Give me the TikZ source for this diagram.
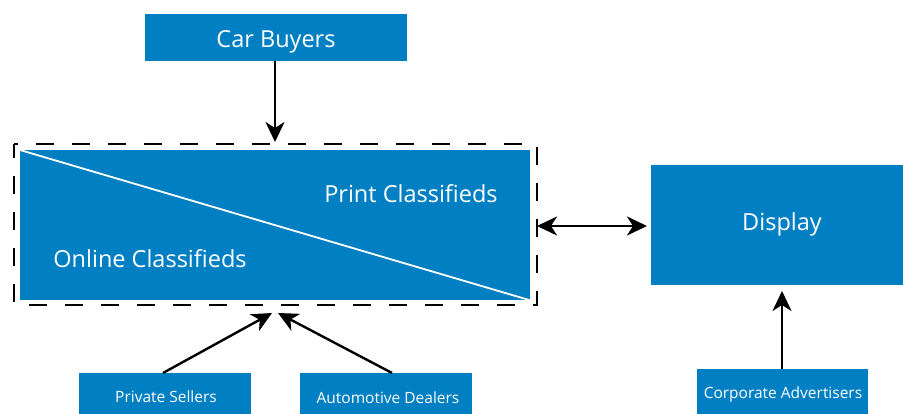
\documentclass[tikz,border=0pt]{standalone}
\usepackage{fontspec}
\setmainfont{Open Sans}
\usetikzlibrary{arrows.meta}
\definecolor{boxblue}{RGB}{0,128,194}
\begin{document}
\begin{tikzpicture}[x=1pt,y=-1pt,
  bluebox/.style={fill=boxblue,draw=none,text=white,inner sep=0pt},
  bigtext/.style={text=white,anchor=base,inner sep=0pt,font=\fontsize{23.5}{27}\selectfont},
  smalltext/.style={text=white,anchor=base,inner sep=0pt,font=\fontsize{15.5}{18}\selectfont},
  conn/.style={draw=black,line width=2.4pt,-{Stealth[length=20pt,width=19pt,inset=6pt]}},
  dconn/.style={draw=black,line width=2.4pt,{Stealth[length=20pt,width=19pt,inset=6pt]}-{Stealth[length=20pt,width=19pt,inset=6pt]}}]
\useasboundingbox (0,0) rectangle (903,414);
% Car Buyers
\node[bluebox,minimum width=262pt,minimum height=47pt,anchor=north west] (cb) at (145,14) {};
\node[bigtext] (cbt) at (276,48) {Car Buyers};
% dashed box
\draw[line width=2.7pt,dash pattern=on 18pt off 18pt,dash phase=4pt] (14,144) rectangle (537,305);
\coordinate (dtop) at (275,142);
% main rect
\node[bluebox,minimum width=510pt,minimum height=150pt,anchor=north west] (main) at (20,150) {};
\draw[white,line width=1.8pt] (main.north west) -- (main.south east);
\node[bigtext] (print) at (411,203) {Print Classifieds};
\node[bigtext] (online) at (150,268) {Online Classifieds};
% Display
\node[bluebox,minimum width=252pt,minimum height=120pt,anchor=north west] (disp) at (651,165) {};
\node[bigtext] (dispt) at (782,231) {Display};
% bottom boxes
\node[bluebox,minimum width=172pt,minimum height=50pt,anchor=north west] (ps) at (79,373) {};
\node[smalltext] (pst) at (166,402) {Private Sellers};
\node[bluebox,minimum width=172pt,minimum height=50pt,anchor=north west] (ad) at (300,373) {};
\node[smalltext] (adt) at (388,403) {Automotive Dealers};
\node[bluebox,minimum width=171pt,minimum height=50pt,anchor=north west] (ca) at (697,369) {};
\node[smalltext] (cat) at (783,398) {Corporate Advertisers};
% connectors
\coordinate (cbbot) at (275,61);
\draw[conn] (cbbot) -- (dtop);
\coordinate (dl) at (537,226);
\coordinate (dr) at (647,226);
\draw[dconn] (dl) -- (dr);
\coordinate (psa) at (163,373);
\coordinate (psb) at (272,313);
\draw[conn] (psa) -- (psb);
\coordinate (ada) at (392,373);
\coordinate (adb) at (278,313);
\draw[conn] (ada) -- (adb);
\coordinate (caa) at (782,369);
\coordinate (cab) at (782,291);
\draw[conn] (caa) -- (cab);
\end{tikzpicture}
\end{document}
